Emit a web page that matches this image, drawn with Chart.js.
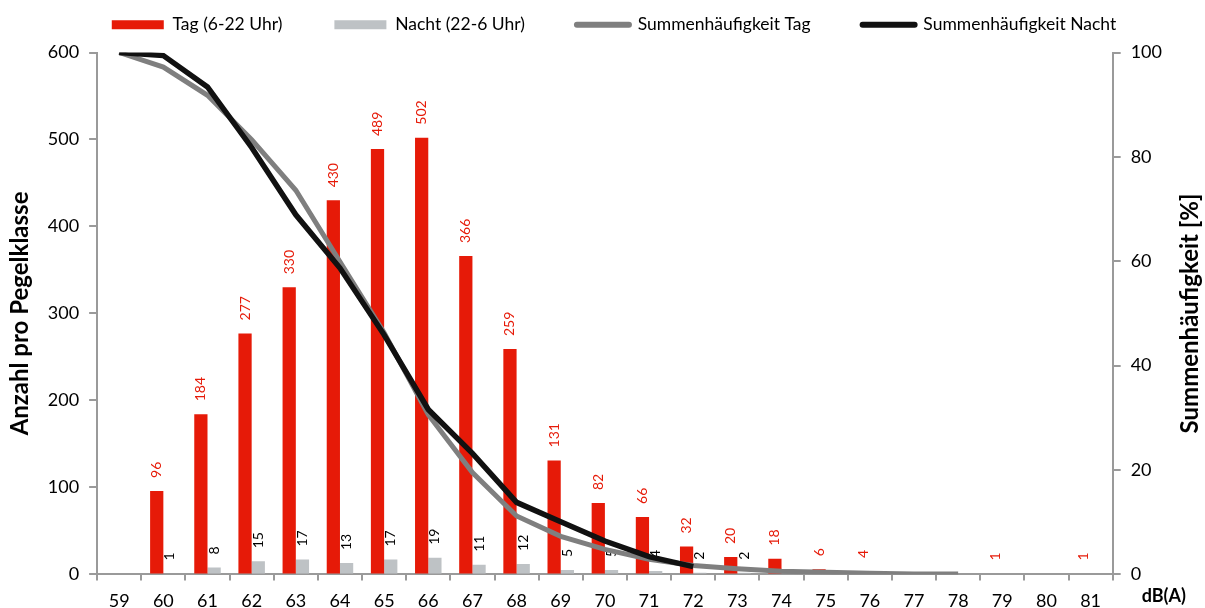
<!DOCTYPE html>
<html>
<head>
<meta charset="utf-8">
<script src="https://cdn.jsdelivr.net/npm/chart.js@4"></script>
<style>
    html, body { margin: 0; padding: 0; background: #fff; }
    #wrap { width: 1205px; height: 608px; }
</style>
</head>
<body>
<div id="wrap"><canvas id="chart"></canvas></div>
<script>
// Pegelklassen in dB(A)
const klassen = ['59', '60', '61', '62', '63', '64', '65', '66', '67', '68', '69', '70',
    '71', '72', '73', '74', '75', '76', '77', '78', '79', '80', '81'];

// Anzahl pro Pegelklasse
const tagAnzahl = [0, 96, 184, 277, 330, 430, 489, 502, 366, 259, 131, 82, 66, 32, 20, 18, 6, 4, 0, 0, 1, 0, 1];
const nachtAnzahl = [0, 1, 8, 15, 17, 13, 17, 19, 11, 12, 5, 5, 4, 2, 2, 0, 0, 0, 0, 0, 0, 0, 0];

// Summenhaeufigkeit in %
const summeTag = [100, 97.2, 91.8, 83.3, 73.6, 59.9, 46.3, 30.6, 19.5, 11.2, 7.3, 4.8, 2.9, 1.7, 1.1, 0.6, 0.4, 0.2, 0.1, 0.1, null, null, null];
const summeNacht = [100, 99.4, 93.4, 81.8, 68.9, 58.7, 45.9, 31.6, 23.2, 13.8, 10.1, 6.4, 3.4, 1.5, null, null, null, null, null, null, null, null, null];

const ROT = 'rgb(230, 26, 8)';
const HELLGRAU = 'rgb(190, 194, 197)';
const GRAU = '#7f7f7f';
const SCHWARZ = '#111111';
const ACHSE = '#9a9a9a';

Chart.defaults.font.family = 'Lato';
Chart.defaults.color = '#000';

// rotierte Werte ueber den Balken
const balkenWerte = {
    id: 'balkenWerte',
    afterDatasetDraw(chart, args) {
        const ds = chart.data.datasets[args.index];
        if (ds.type !== 'bar') return;
        const ctx = chart.ctx;
        args.meta.data.forEach((bar, i) => {
            const v = ds.data[i];
            if (!v) return;
            ctx.save();
            ctx.translate(bar.x, bar.y - 13);
            ctx.rotate(-Math.PI / 2);
            ctx.font = '14px Lato';
            ctx.fillStyle = ds.wertFarbe;
            ctx.textAlign = 'left';
            ctx.textBaseline = 'middle';
            ctx.fillText(String(v), 0, 0);
            ctx.restore();
        });
    }
};

// Einheit rechts neben der x-Achse, Titel der rechten Achse (von unten nach oben)
const beschriftung = {
    id: 'beschriftung',
    afterDraw(chart) {
        const ctx = chart.ctx;
        const x = chart.scales.x;
        const y2 = chart.scales.y2;
        ctx.save();
        ctx.font = 'bold 18px Lato';
        ctx.fillStyle = '#000';
        ctx.textAlign = 'left';
        ctx.textBaseline = 'middle';
        ctx.fillText('dB(A)', chart.chartArea.right + 29, x.top + 22);

        ctx.translate(y2.right + 18, (y2.top + y2.bottom) / 2);
        ctx.rotate(-Math.PI / 2);
        ctx.font = 'bold 24px Lato';
        ctx.textAlign = 'center';
        ctx.fillText('Summenhäufigkeit [%]', 0, 0);
        ctx.restore();
    }
};

// etwas Luft unter der Legende, Legende leicht nach rechts
const legendeAbstand = {
    id: 'legendeAbstand',
    afterInit(chart) {
        if (!chart.legend) return;
        const fit = chart.legend.fit;
        chart.legend.fit = function () {
            fit.call(this);
            this.height += 9;
        };
    },
    afterLayout(chart) {
        if (!chart.legend) return;
        chart.legend.left += 25;
        chart.legend.right += 25;
    }
};

new Chart(document.getElementById('chart'), {
    data: {
        labels: klassen,
        datasets: [
            {
                type: 'bar',
                label: 'Tag (6-22 Uhr)',
                data: tagAnzahl,
                backgroundColor: ROT,
                wertFarbe: ROT,
                yAxisID: 'y',
                order: 2,
                categoryPercentage: 0.6,
                barPercentage: 1
            },
            {
                type: 'bar',
                label: 'Nacht (22-6 Uhr)',
                data: nachtAnzahl,
                backgroundColor: HELLGRAU,
                wertFarbe: '#000',
                yAxisID: 'y',
                order: 2,
                categoryPercentage: 0.6,
                barPercentage: 1
            },
            {
                type: 'line',
                label: 'Summenhäufigkeit Tag',
                data: summeTag,
                borderColor: GRAU,
                backgroundColor: GRAU,
                borderWidth: 5,
                pointRadius: 0,
                tension: 0,
                yAxisID: 'y2',
                order: 1
            },
            {
                type: 'line',
                label: 'Summenhäufigkeit Nacht',
                data: summeNacht,
                borderColor: SCHWARZ,
                backgroundColor: SCHWARZ,
                borderWidth: 5.5,
                pointRadius: 0,
                tension: 0,
                yAxisID: 'y2',
                order: 0
            }
        ]
    },
    options: {
        responsive: true,
        maintainAspectRatio: false,
        animation: false,
        layout: {
            padding: {top: -36, left: 6, right: 33, bottom: -14}
        },
        plugins: {
            tooltip: {enabled: false},
            legend: {
                position: 'top',
                labels: {
                    usePointStyle: true,
                    pointStyleWidth: 52,
                    boxHeight: 9,
                    padding: 52,
                    font: {size: 17.5},
                    color: '#000',
                    generateLabels: chart => chart.data.datasets.map((ds, i) => ({
                        text: ds.label,
                        fillStyle: ds.type === 'line' ? ds.borderColor : ds.backgroundColor,
                        strokeStyle: ds.type === 'line' ? ds.borderColor : ds.backgroundColor,
                        lineWidth: ds.type === 'line' ? 6 : 0,
                        lineCap: 'round',
                        pointStyle: ds.type === 'line' ? 'line' : 'rect',
                        fontColor: '#000',
                        hidden: false,
                        datasetIndex: i
                    }))
                }
            }
        },
        scales: {
            x: {
                type: 'category',
                offset: true,
                grid: {
                    offset: true,
                    drawOnChartArea: false,
                    drawTicks: true,
                    tickLength: 6,
                    color: ACHSE,
                    lineWidth: 2
                },
                border: {color: ACHSE, width: 2},
                ticks: {
                    font: {size: 18},
                    padding: 10,
                    maxRotation: 0,
                    autoSkip: false
                }
            },
            y: {
                position: 'left',
                min: 0,
                max: 600,
                grid: {
                    drawOnChartArea: false,
                    tickLength: 8,
                    color: ACHSE,
                    lineWidth: 2
                },
                border: {color: ACHSE, width: 2},
                ticks: {stepSize: 100, font: {size: 18}, padding: 10},
                title: {
                    display: true,
                    text: 'Anzahl pro Pegelklasse',
                    font: {size: 24, weight: 'bold'},
                    padding: {top: 0, bottom: 3}
                }
            },
            y2: {
                position: 'right',
                min: 0,
                max: 100,
                grid: {
                    drawOnChartArea: false,
                    tickLength: 8,
                    color: ACHSE,
                    lineWidth: 2
                },
                border: {color: ACHSE, width: 2},
                ticks: {stepSize: 20, font: {size: 18}, padding: 10}
            }
        }
    },
    plugins: [balkenWerte, beschriftung, legendeAbstand]
});
</script>
</body>
</html>
